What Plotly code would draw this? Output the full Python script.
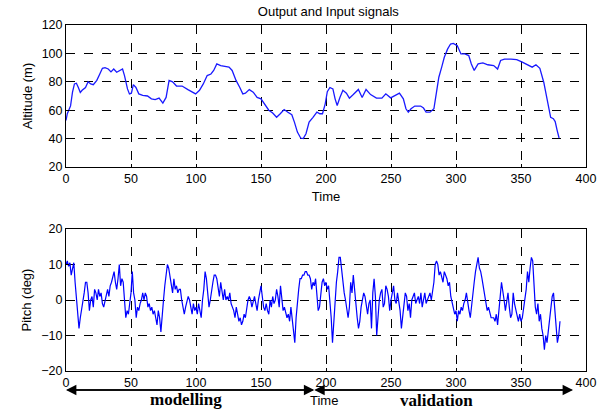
import plotly.graph_objects as go
from plotly.subplots import make_subplots

# ---- Data ----
alt_t = [0, 1, 3.5, 5, 6.5, 8, 9.5, 11, 12.4, 15, 17, 19, 21, 23.7, 26, 28, 30, 32.5, 34.6, 36.7,
         39, 41.4, 43.5, 45, 47.3, 48.8, 50.3, 51.8, 53.8, 56, 59, 62.7, 65.7, 68.6, 71.6, 74.5, 77,
         79.3, 82, 85, 89.3, 93.8, 96.7, 99.7, 102.7, 105.6, 108.6, 111.5, 113.6, 116, 119, 122,
         125.4, 127.8, 130.8, 133.7, 136, 138, 141, 144, 147, 150, 153, 156, 159, 162, 164.8, 167.8,
         170.7, 173.7, 175.7, 178, 180.5, 182.5, 184.6, 187, 190, 193, 195.3, 197.3, 199.4, 201, 203,
         205.3, 207, 208.6, 210.7, 213, 215.7, 218, 221, 224.9, 227.8, 230.8, 234.3, 238.8, 243, 246,
         249.7, 253.6, 256.5, 259.5, 261.5, 263.3, 265.4, 268.3, 272.8, 275, 277, 280, 283, 285,
         286.8, 289, 291, 293.5, 295.8, 297.9, 300.9, 303.8, 306.8, 309.8, 311.8, 314, 317, 320.7,
         324.5, 329, 332, 334.3, 337.3, 342.3, 346.7, 351, 355.6, 358.6, 361.5, 364.5, 367.5, 370.4,
         372.8, 374.9, 376.3, 377.8, 379.3]
altitude = [52.8, 57.5, 63, 72.7, 78.5, 79, 76, 72.5, 74, 76, 80, 78.5, 78, 81, 85.5, 89.5, 90, 89, 87, 89,
            86.7, 88, 89, 84.4, 75, 71.5, 72, 78, 76, 71.5, 70.4, 70, 68, 67.5, 68.5, 65, 69,
            81, 80, 77, 77, 74.5, 73, 71.5, 74, 78.5, 84.4, 85.5, 88, 92.6, 91.4, 91,
            90.3, 88, 81, 76, 71.5, 72, 74.5, 72.7, 69, 68, 64, 60, 58, 55, 57.5, 60.5,
            58.6, 56.8, 51.6, 44.6, 40.4, 40, 43.4, 51.6, 55, 58.6, 57.5, 57.5, 64.5, 73, 76,
            75, 68, 63.3, 69, 74, 72, 68.5, 71, 74.6, 69, 74.6, 71, 68.5, 68.5, 71.5,
            68.7, 70.4, 72, 68, 61, 58.6, 61, 62.9, 62.9, 61.5, 58.6, 58.6, 61, 72.7,
            83.2, 90.3, 97.3, 103, 106.6, 107, 105.5, 99.6, 99.6, 98.5, 92.6, 88, 92.6, 93.3,
            92, 91.4, 89, 95, 96, 96, 95.6, 93.8, 91.4, 90.3, 92, 89.5, 79.7, 65.7,
            55, 54, 52, 45.8, 40.4]

pitch_t = list(range(0, 381))
pitch = [10, 11, 9.5, 10.5, 7, 9, 10.5, 5, 0, -5, -8, -5, -3, 0, 2, 5, 5, 2, -3, 0,
         1, -2, 3, 2, 0, 3, 1, 2, -1, -2, 0, 2, 3, 1, 4, 5, 7, 8, 5, 3,
         6, 10, 4, 6, 5, 0, -5, -3, -4, -1, 2, 8, 2, 0, -5, -2, -3, -1, 0, 2,
         0, 2, 1, -2, -1, -3, -2, -4, -3, -5, -7, -3, -5, -9, -3, 0, 4, 8, 10, 9,
         7, 5, 2, 6, 3, 4, 2, 3, 3, 0, -2, -4, -2, 0, 1, 0, -2, -4, -1, -3,
         -2, -4, -1, -3, -5, 0, 3, 8, 6, 2, -2, 0, 3, 5, 7, 7, 6, 3, 1, 5,
         2, 0, 3, 0, 1, 0, 2, -1, -2, -3, -5, -2, -4, -6, -5, -7, -6, -4, -5, -2,
         0, 1, 0, -2, 0, 1, -1, -3, 0, 2, 4, 1, -2, -3, -1, -3, -4, 0, -2, 1,
         -1, 0, 3, 1, -2, 4, 0, -3, -2, -4, -5, -4, -6, -2, -5, -8, -12, -5, 0, 3,
         6, 6, 7, 7, 8, 8, 7, 7, 6, 3, 5, 4, 6, 0, -3, -2, 2, 5, 6, 4,
         5, 3, 4, 0, -5, -12, -6, 0, 5, 8, 12, 12, 8, 6, 2, 0, -2, -5, -2, 5,
         2, 7, 3, -2, -5, -8, -6, -2, 0, 2, 1, -2, -4, -1, 0, -8, 2, 6, 1, -10,
         -4, 0, 2, 3, -2, -1, 4, 3, 1, -3, 0, 2, 4, 0, -1, 2, 0, -3, -8, -4,
         0, 2, 1, -3, -1, -5, 0, 1, 2, -1, 0, 1, -1, 2, -2, 0, 2, -1, 0, 1,
         2, 0, 2, 5, 10, 11, 10, 7, 8, 6, 5, 8, 7, 6, 4, 5, 1, -1, -3, -4,
         -3, -6, -3, -4, -2, -3, -1, 0, 2, -1, -3, -5, -1, 1, 5, 8, 10, 12, 9, 8,
         6, 4, 2, 0, -3, -2, -4, -5, -5, -5, -6, -4, -7, -2, 1, 5, 3, 0, -3, -1,
         2, -2, -5, -4, 2, -1, -3, -5, -6, -4, -6, -5, -2, 0, 3, 8, 5, 9, 12, 11,
         3, -2, -4, -1, -6, -4, -8, -10, -14, -10, -12, -9, -6, -3, 1, 2, -2, -8, -12, -10,
         -6]

x_ticks = [0, 50, 100, 150, 200, 250, 300, 350, 400]
alt_ticks = [20, 40, 60, 80, 100, 120]
pitch_ticks = [-20, -10, 0, 10, 20]

# segment boundaries of the modelling / validation arrows (time units)
model_span = [0, 191]
valid_span = [191, 390]

W, H = 608, 410
ML, MR, MT, MB = 65.5, 19.5, 25, 39
ph = H - MT - MB
top_y0 = (H - MB - 167) / ph
bot_y1 = (H - MB - 229) / ph

def py(pix):
    """paper y from pixel row"""
    return (H - MB - pix) / ph

fig = make_subplots(rows=2, cols=1)
fig.add_trace(go.Scatter(x=alt_t, y=altitude, mode="lines",
                         line=dict(color="#1a1aff", width=1.3), showlegend=False), row=1, col=1)
fig.add_trace(go.Scatter(x=pitch_t, y=pitch, mode="lines",
                         line=dict(color="#0000ff", width=1.2), showlegend=False), row=2, col=1)

font = dict(family="Liberation Sans, Arial, sans-serif", size=12.5, color="black")
lab_font = dict(family="Liberation Sans, Arial, sans-serif", size=13, color="black")
axis_common = dict(showline=True, linecolor="black", linewidth=1, mirror=True,
                   showgrid=True, gridcolor="black", griddash="dash", gridwidth=1,
                   zeroline=False, ticks="inside", ticklen=3, tickcolor="black",
                   tickfont=font)

fig.update_xaxes(**axis_common, range=[0, 400], tickvals=x_ticks, ticktext=[str(v) for v in x_ticks])
fig.update_xaxes(domain=[0, 1], row=1, col=1,
                 title=dict(text="Time", font=lab_font, standoff=6))
fig.update_xaxes(domain=[0, 1], row=2, col=1)
fig.update_yaxes(**axis_common)
fig.update_yaxes(domain=[top_y0, 1], range=[20, 120], tickvals=alt_ticks, row=1, col=1,
                 title=dict(text="Altitude (m)", font=lab_font, standoff=6))
fig.update_yaxes(domain=[0, bot_y1], range=[-20, 20], tickvals=pitch_ticks, row=2, col=1,
                 title=dict(text="Pitch (deg)", font=lab_font, standoff=6))

serif_bold = dict(family="Liberation Serif, Times New Roman, serif", size=17, color="black")
arrow_py = py(390)
for a, b in [model_span, valid_span]:
    for s, e in [(a, b), (b, a)]:
        fig.add_annotation(x=e, y=arrow_py, ax=s, ay=0, xref="x2", yref="paper",
                           axref="x2", ayref="pixel", showarrow=True, arrowhead=2,
                           arrowsize=1.6, arrowwidth=1.3, arrowcolor="black", text="")
fig.add_annotation(x=92, y=py(399), xref="x2", yref="paper", yanchor="middle",
                   text="<b>modelling</b>", showarrow=False, font=serif_bold)
fig.add_annotation(x=285, y=py(400), xref="x2", yref="paper", yanchor="middle",
                   text="<b>validation</b>", showarrow=False, font=serif_bold)
fig.add_annotation(x=198.6, y=py(401), xref="x2", yref="paper", yanchor="middle",
                   text="Time", showarrow=False, font=lab_font)

fig.update_layout(
    width=W, height=H,
    margin=dict(l=ML, r=MR, t=MT, b=MB),
    paper_bgcolor="white", plot_bgcolor="white",
    title=dict(text="Output and Input signals", x=0.54, xanchor="center", y=1 - 11 / H,
               yanchor="middle", font=lab_font),
    font=font,
)

fig.write_html("out.html")
